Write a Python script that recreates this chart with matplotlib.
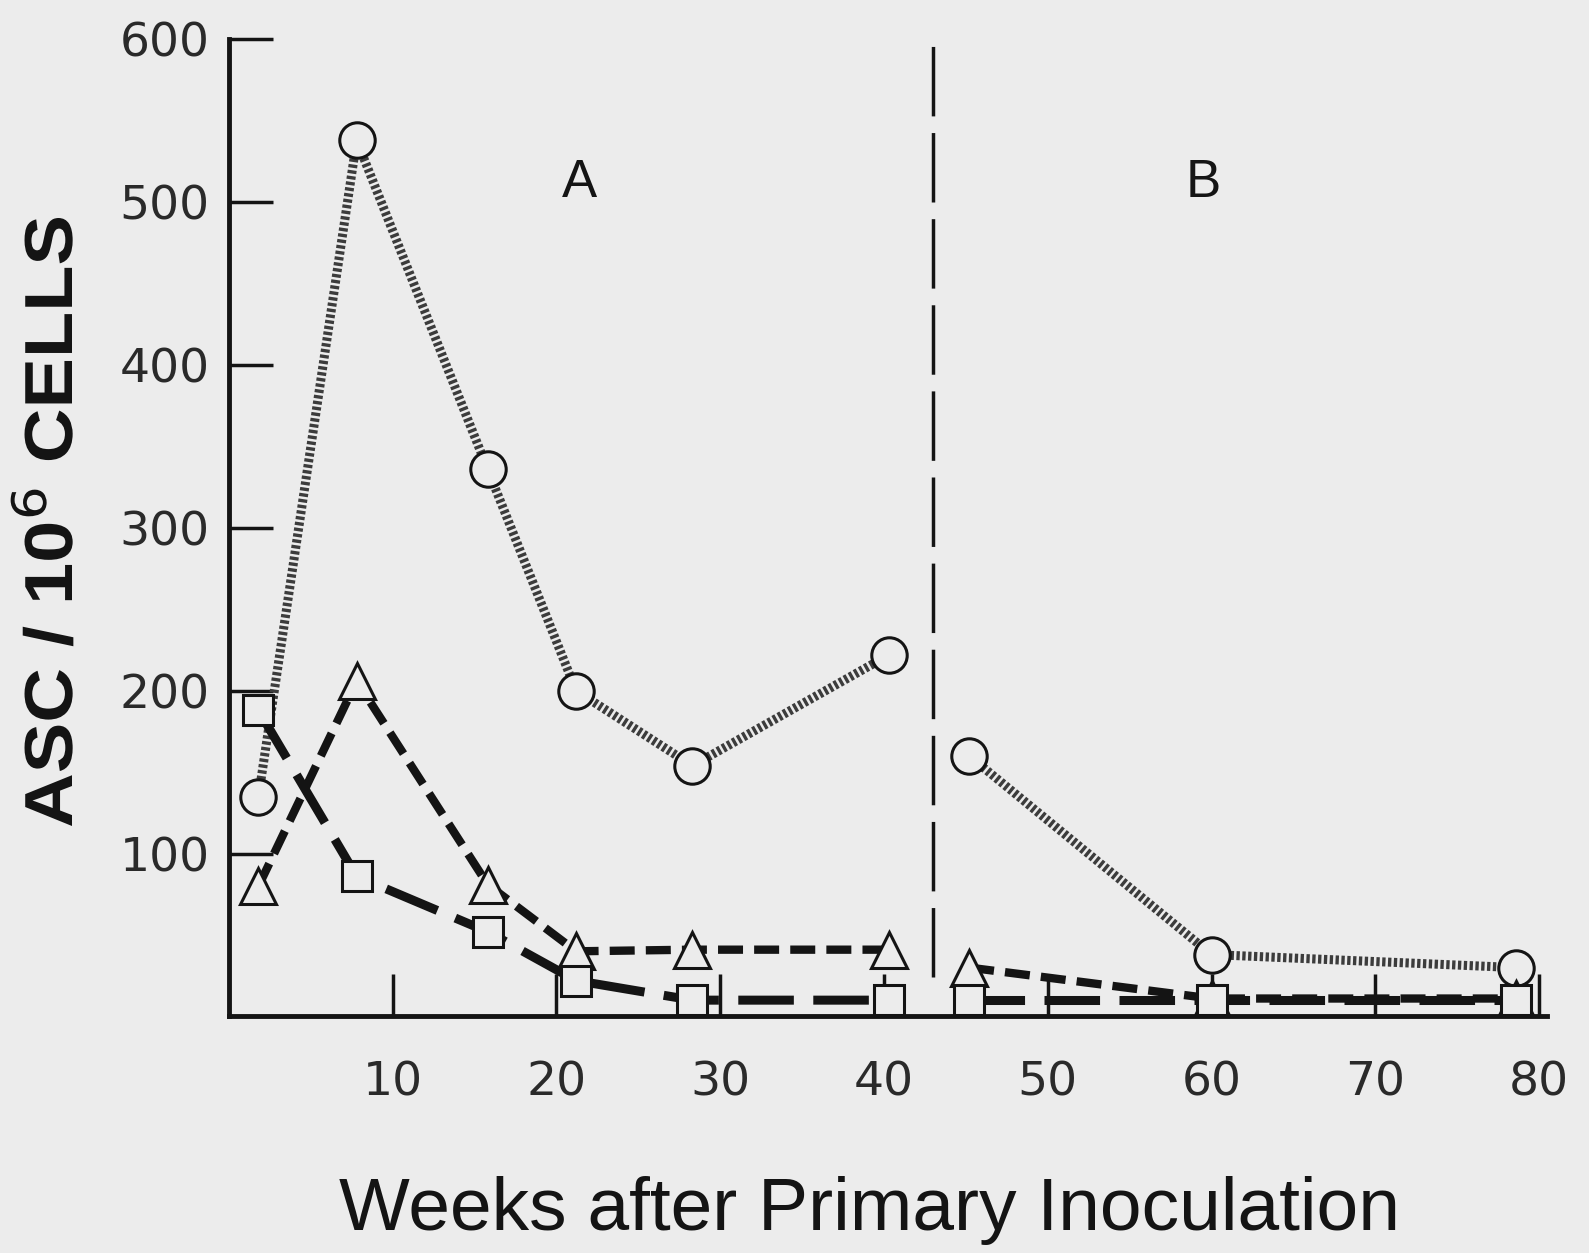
import matplotlib
matplotlib.use("Agg")
import matplotlib.pyplot as plt
from matplotlib.font_manager import FontProperties
from matplotlib.patches import PathPatch
from matplotlib.textpath import TextPath
from matplotlib.transforms import Affine2D

# Antibody-secreting cells over time after primary inoculation
# phase A: weeks 0-40, phase B: weeks 45-80
weeks_a = [1.8, 7.8, 15.8, 21.2, 28.3, 40.3]
weeks_b = [45.2, 60.0, 78.6]

circle_a = [135, 538, 336, 200, 154, 222]
circle_b = [160, 38, 30]

triangle_a = [80, 206, 81, 40, 41, 41]
triangle_b = [30, 11, 11]

square_a = [188, 86, 52, 22, 10, 10]
square_b = [10, 10, 10]

y_ticks = [100, 200, 300, 400, 500, 600]
x_ticks = [10, 20, 30, 40, 50, 60, 70, 80]
divider_week = 43

BG = "#ececec"
INK = "#141414"

plt.rcParams["lines.scale_dashes"] = False
plt.rcParams["font.family"] = ["DejaVu Sans"]

fig = plt.figure(figsize=(15.89, 12.53), dpi=100)
fig.patch.set_facecolor(BG)
ax = fig.add_axes([0.1441, 0.1888, 0.8296, 0.7797])
ax.set_facecolor(BG)
ax.set_xlim(0, 80.5)
ax.set_ylim(0, 600)

for side in ("top", "right"):
    ax.spines[side].set_visible(False)
for side in ("left", "bottom"):
    ax.spines[side].set_linewidth(3.5)
    ax.spines[side].set_color(INK)

marker_kw = dict(markerfacecolor=BG, markeredgecolor=INK, markeredgewidth=2.2)

for xs, ys in ((weeks_a, circle_a), (weeks_b, circle_b)):
    ax.plot(xs, ys, color="#3c3c3c", lw=6.5, dashes=(2.4, 1.8),
            dash_capstyle="butt", marker="o", markersize=25.5, zorder=3, **marker_kw)

for xs, ys in ((weeks_a, triangle_a), (weeks_b, triangle_b)):
    ax.plot(xs, ys, color=INK, lw=6, dashes=(18, 8),
            dash_capstyle="butt", marker="^", markersize=26, zorder=4, **marker_kw)

for xs, ys in ((weeks_a, square_a), (weeks_b, square_b)):
    ax.plot(xs, ys, color=INK, lw=6.5, dashes=(40, 14),
            dash_capstyle="butt", marker="s", markersize=22, zorder=5, **marker_kw)

# phase divider
ax.plot([divider_week, divider_week], [24, 599], color=INK, lw=2.5,
        dashes=(50, 12), zorder=2)

for label, wk in (("A", 21.4), ("B", 59.5)):
    ax.text(wk, 512, label, fontsize=38, family=["Liberation Sans", "DejaVu Sans"],
            ha="center", va="center", color=INK)

ax.set_xticks(x_ticks)
ax.set_yticks(y_ticks)
ax.tick_params(axis="both", direction="in", colors=INK, labelcolor="#2a2a2a",
               labelsize=34)
ax.tick_params(axis="y", length=32, width=2.5, pad=14)
ax.tick_params(axis="x", length=30, width=2.5, pad=32)

# condensed bold y label, drawn as a squeezed text path (pixel units)
ylab = TextPath((0, 0), "ASC / 10$^6$ CELLS", size=68,
                prop=FontProperties(family="Liberation Sans", weight="bold"))
ext = ylab.get_extents()
squeeze = 608 / ext.width
ylab_tf = (Affine2D()
           .translate(-ext.x0 - ext.width / 2, -ext.y0 - ext.height / 2)
           .scale(squeeze, 1.0)
           .rotate_deg(90)
           .translate(42, 731)
           .scale(1 / fig.dpi)
           + fig.dpi_scale_trans)
fig.add_artist(PathPatch(ylab, transform=ylab_tf, facecolor=INK, edgecolor="none"))

fig.text(0.547, 0.018, "Weeks after Primary Inoculation", fontsize=54,
         family=["Liberation Sans", "DejaVu Sans"], ha="center", va="baseline",
         color=INK)

fig.savefig("out.png", dpi=100, facecolor=fig.get_facecolor())
